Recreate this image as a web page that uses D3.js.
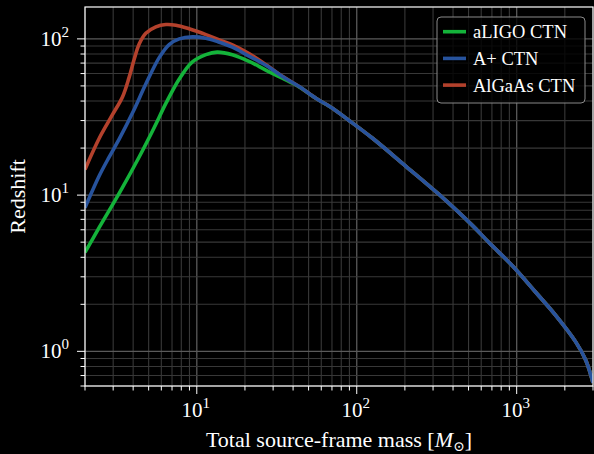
<!DOCTYPE html>
<html>
<head>
<meta charset="utf-8">
<script src="https://cdn.jsdelivr.net/npm/d3@7"></script>
<style>
  html, body { margin: 0; padding: 0; background: #000; }
  svg { display: block; }
  text { font-family: "Liberation Serif", "DejaVu Serif", serif; fill: #fff; }
</style>
</head>
<body>
<div id="chart"></div>
<script>
const width = 594, height = 454;
const margin = { left: 85, top: 7, right: 1, bottom: 68 };

// total source-frame mass [M_sun] vs. redshift reach
const aligoMass = [2, 2.46, 3.27, 4.37, 5.41, 6.43, 7.77, 9.35, 11.4, 13.4, 16.7, 21.2, 27, 34.3, 43.6];
const aligoZ    = [4.3, 6.23, 10.25, 17.6, 27, 38.9, 55.4, 71.1, 79.3, 82.3, 79.2, 71.8, 63.2, 56, 49.3];

const aplusMass = [2, 2.46, 2.83, 3.27, 3.96, 4.8, 5.82, 6.72, 7.77, 9.4, 11.4, 13.5, 16.7, 21.2, 27, 34.3, 43.6];
const aplusZ    = [8.31, 13.35, 17.5, 22.8, 33.5, 51.4, 75.9, 92, 100, 103, 101, 96, 88.5, 77.5, 67.8, 57.5, 49.5];

const algaasMass = [2, 2.46, 2.97, 3.43, 3.77, 4.06, 4.37, 4.8, 5.55, 6.41, 7.4, 8.96, 11.4, 13.8, 16.7, 21.2, 27, 34.3, 43.6];
const algaasZ    = [14.6, 23.2, 32.7, 42.5, 56.5, 74, 93, 108.5, 119.3, 123.5, 122.3, 116, 106.5, 98.5, 91.5, 80.5, 68.5, 57.6, 49.6];

// all three curves coincide at high mass
const tailMass = [55.5, 70.5, 87.5, 125, 203, 327, 528, 671, 940, 1315, 1753, 2339, 2700, 3000];
const tailZ    = [41.7, 36, 30.6, 23.2, 15.3, 10.1, 6.4, 4.97, 3.53, 2.39, 1.70, 1.15, 0.88, 0.63];

const seriesNames  = ["aLIGO CTN", "A+ CTN", "AlGaAs CTN"];
const seriesColors = ["#14b33a", "#27539d", "#b3412c"];

const xTickValues = [10, 100, 1000];
const yTickValues = [1, 10, 100];
const xLabel = "Total source-frame mass";
const yLabel = "Redshift";

const innerWidth = width - margin.left - margin.right;
const innerHeight = height - margin.top - margin.bottom;

const toPoints = (ms, zs) => ms.map((m, i) => ({ m: m, z: zs[i] }))
  .concat(tailMass.map((m, i) => ({ m: m, z: tailZ[i] })));
const series = [
  toPoints(aligoMass, aligoZ),
  toPoints(aplusMass, aplusZ),
  toPoints(algaasMass, algaasZ)
];

const xScale = d3.scaleLog().domain([2, 3000]).range([0, innerWidth]);
const yScale = d3.scaleLog().domain([0.6, 160]).range([innerHeight, 0]);

const svg = d3.select("#chart")
  .append("svg")
    .attr("width", width)
    .attr("height", height);

svg.append("rect")
  .attr("width", width)
  .attr("height", height)
  .attr("fill", "#000");

const plot = svg.append("g")
  .attr("transform", `translate(${margin.left}, ${margin.top})`);

// minor + major ticks inside the domains
const logTicks = (lo, hi) => {
  const out = [];
  for (let e = Math.floor(Math.log10(lo)); e <= Math.ceil(Math.log10(hi)); e++) {
    for (let k = 1; k < 10; k++) {
      const v = k * Math.pow(10, e);
      if (v >= lo * 0.999 && v <= hi * 1.001) out.push({ v: v, major: k === 1 });
    }
  }
  return out;
};
const xAll = logTicks(2, 3000);
const yAll = logTicks(0.6, 160);

// grid
const grid = plot.append("g");
grid.selectAll("line.gx")
  .data(xAll)
  .join("line")
    .attr("class", "gx")
    .attr("x1", d => xScale(d.v))
    .attr("x2", d => xScale(d.v))
    .attr("y1", 0)
    .attr("y2", innerHeight)
    .attr("stroke", d => d.major ? "#5a5a5a" : "#383838")
    .attr("stroke-width", d => d.major ? 1.3 : 1.1);
grid.selectAll("line.gy")
  .data(yAll)
  .join("line")
    .attr("class", "gy")
    .attr("x1", 0)
    .attr("x2", innerWidth)
    .attr("y1", d => yScale(d.v))
    .attr("y2", d => yScale(d.v))
    .attr("stroke", d => d.major ? "#5a5a5a" : "#383838")
    .attr("stroke-width", d => d.major ? 1.3 : 1.1);

// curves
const lineGenerator = d3.line()
  .x(d => xScale(d.m))
  .y(d => yScale(d.z))
  .curve(d3.curveCatmullRom.alpha(0.5));

svg.append("clipPath").attr("id", "clip")
  .append("rect")
    .attr("width", innerWidth)
    .attr("height", innerHeight);

// green first, then red, then blue on top (blue shows over the common tail)
[0, 2, 1].forEach(i => {
  plot.append("path")
    .attr("clip-path", "url(#clip)")
    .attr("d", lineGenerator(series[i]))
    .attr("fill", "none")
    .attr("stroke", seriesColors[i])
    .attr("stroke-width", 3.6)
    .attr("stroke-linejoin", "round");
});

// frame
plot.append("rect")
  .attr("width", innerWidth)
  .attr("height", innerHeight)
  .attr("fill", "none")
  .attr("stroke", "#fff")
  .attr("stroke-width", 1.2);

// ticks
const ticks = plot.append("g").attr("stroke", "#fff").attr("stroke-width", 1);
ticks.selectAll("line.tx")
  .data(xAll)
  .join("line")
    .attr("x1", d => xScale(d.v))
    .attr("x2", d => xScale(d.v))
    .attr("y1", innerHeight)
    .attr("y2", d => innerHeight + (d.major ? 8 : 4.5));
ticks.selectAll("line.ty")
  .data(yAll)
  .join("line")
    .attr("y1", d => yScale(d.v))
    .attr("y2", d => yScale(d.v))
    .attr("x1", 0)
    .attr("x2", d => d.major ? -8 : -4.5);

// tick labels 10^n
const powerLabel = (sel, d) => {
  sel.append("tspan").text("10");
  sel.append("tspan")
    .text(Math.round(Math.log10(d)))
    .attr("dy", -9)
    .style("font-size", "15px");
};
xTickValues.forEach(v => {
  const t = plot.append("text")
    .attr("x", xScale(v) - 1)
    .attr("y", innerHeight + 31)
    .attr("text-anchor", "middle")
    .style("font-size", "21px");
  powerLabel(t, v);
});
yTickValues.forEach(v => {
  const t = plot.append("text")
    .attr("x", -16)
    .attr("y", yScale(v) + 7)
    .attr("text-anchor", "end")
    .style("font-size", "21px");
  powerLabel(t, v);
});

// axis titles
const xt = svg.append("text")
  .attr("x", margin.left + innerWidth / 2)
  .attr("y", 447)
  .attr("text-anchor", "middle")
  .style("font-size", "22px");
xt.append("tspan").text(xLabel + " [");
xt.append("tspan").text("M").style("font-style", "italic");
xt.append("tspan").text("\u2299").attr("dy", 4).style("font-size", "14px");
xt.append("tspan").text("]").attr("dy", -4);

svg.append("text")
  .attr("transform", `translate(17, ${margin.top + innerHeight / 2}) rotate(-90)`)
  .attr("text-anchor", "middle")
  .attr("dominant-baseline", "central")
  .style("font-size", "22px")
  .text(yLabel);

// legend
const legend = svg.append("g").attr("transform", "translate(437, 17)");
legend.append("rect")
  .attr("width", 148)
  .attr("height", 86)
  .attr("rx", 4)
  .attr("fill", "#000")
  .attr("fill-opacity", 0.8)
  .attr("stroke", "#8a8a8a")
  .attr("stroke-width", 1);
const rows = legend.selectAll("g.row")
  .data(seriesNames)
  .join("g")
    .attr("class", "row")
    .attr("transform", (d, i) => `translate(0, ${14.7 + i * 26.7})`);
rows.append("line")
  .attr("x1", 6)
  .attr("x2", 29)
  .attr("stroke", (d, i) => seriesColors[i])
  .attr("stroke-width", 3.6);
rows.append("text")
  .attr("x", 36)
  .attr("y", 6.5)
  .style("font-size", "18.5px")
  .text(d => d);
</script>
</body>
</html>
